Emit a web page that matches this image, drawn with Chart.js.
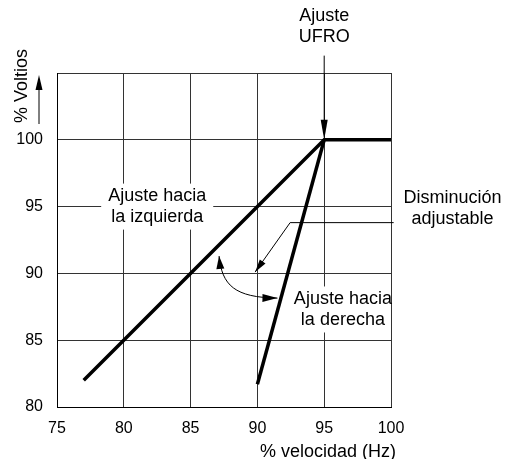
<!DOCTYPE html>
<html>
<head>
<meta charset="utf-8">
<script src="https://cdn.jsdelivr.net/npm/chart.js@4"></script>
<style>
  body { margin: 0; background: #fff; }
  canvas { display: block; }
</style>
</head>
<body>
<canvas id="chart" width="505" height="459"></canvas>
<script>
// values
const speedLeft = [77, 95, 100];
const voltsLeft = [82, 100, 100];
const speedRight = [90, 95];
const voltsRight = [81.7, 100];

const xTicks = [75, 80, 85, 90, 95, 100];
const yTicks = [80, 85, 90, 95, 100];

const xTitle = '% velocidad (Hz)';
const yTitle = '% Voltios';

// annotation texts, anchored in data units
const notes = [
    { lines: ['Ajuste hacia', 'la izquierda'], x: 82.5, y: 95, box: true },
    { lines: ['Ajuste hacia', 'la derecha'], x: 96.4, y: 87.3, box: true },
    { lines: ['Disminución', 'adjustable'], x: 104.6, y: 94.85, box: false },
    { lines: ['Ajuste', 'UFRO'], x: 95, y: 108.45, box: false }
];

const ufroArrow = [[95, 106.3], [95, 100]];
const leaderArrow = [[100.2, 93.8], [92.45, 93.8], [89.83, 90.1]];
const curvedArrow = [[87.13, 91.3], [87.35, 89.1], [88.3, 88.2], [91.5, 88.15]];

const FONT = '"Liberation Sans", Arial, sans-serif';

function arrowHead(ctx, fromX, fromY, toX, toY, len, half) {
    const a = Math.atan2(toY - fromY, toX - fromX);
    ctx.beginPath();
    ctx.moveTo(toX, toY);
    ctx.lineTo(toX - len * Math.cos(a) + half * Math.sin(a), toY - len * Math.sin(a) - half * Math.cos(a));
    ctx.lineTo(toX - len * Math.cos(a) - half * Math.sin(a), toY - len * Math.sin(a) + half * Math.cos(a));
    ctx.closePath();
    ctx.fill();
}

const notesPlugin = {
    id: 'notes',
    beforeDatasetsDraw(chart) {
        const ctx = chart.ctx;
        const xs = chart.scales.x, ys = chart.scales.y;
        ctx.save();
        ctx.font = '18px ' + FONT;
        ctx.textAlign = 'center';
        ctx.textBaseline = 'middle';
        notes.forEach(n => {
            const cx = xs.getPixelForValue(n.x);
            const cy = ys.getPixelForValue(n.y);
            const lh = 21;
            if (n.box) {
                const w = Math.max(...n.lines.map(l => ctx.measureText(l).width)) + 14;
                const h = n.lines.length * lh + 4;
                let left = cx - w / 2, right = cx + w / 2;
                right = Math.min(right, chart.chartArea.right - 1);
                ctx.fillStyle = '#fff';
                ctx.fillRect(left, cy - h / 2, right - left, h);
            }
            ctx.fillStyle = '#000';
            n.lines.forEach((l, i) => {
                ctx.fillText(l, cx, cy + (i - (n.lines.length - 1) / 2) * lh);
            });
        });
        ctx.restore();
    },
    afterDatasetsDraw(chart) {
        const ctx = chart.ctx;
        const xs = chart.scales.x, ys = chart.scales.y;
        const P = p => [xs.getPixelForValue(p[0]), ys.getPixelForValue(p[1])];
        ctx.save();
        ctx.strokeStyle = '#000';
        ctx.fillStyle = '#000';
        ctx.lineWidth = 1;

        // UFRO arrow
        let a = P(ufroArrow[0]), b = P(ufroArrow[1]);
        ctx.beginPath();
        ctx.moveTo(a[0], a[1]);
        ctx.lineTo(b[0], b[1] - 10);
        ctx.stroke();
        arrowHead(ctx, a[0], a[1], b[0], b[1], 20, 3.5);

        // leader to the adjustable drop
        const l = leaderArrow.map(P);
        ctx.beginPath();
        ctx.moveTo(l[0][0], l[0][1]);
        ctx.lineTo(l[1][0], l[1][1]);
        ctx.lineTo(l[2][0], l[2][1]);
        ctx.stroke();
        arrowHead(ctx, l[1][0], l[1][1], l[2][0], l[2][1], 13, 3.5);

        // curved double arrow
        const c = curvedArrow.map(P);
        ctx.beginPath();
        ctx.moveTo(c[0][0], c[0][1]);
        ctx.bezierCurveTo(c[1][0], c[1][1], c[2][0], c[2][1], c[3][0], c[3][1]);
        ctx.stroke();
        arrowHead(ctx, c[1][0], c[1][1], c[0][0], c[0][1], 13, 4);
        arrowHead(ctx, c[2][0], c[2][1], c[3][0], c[3][1], 15, 4);

        // axis titles
        const area = chart.chartArea;
        ctx.font = '18px ' + FONT;
        ctx.textBaseline = 'middle';
        ctx.textAlign = 'center';
        ctx.fillText(xTitle, area.right - 63, 452);

        ctx.save();
        ctx.translate(22, 86);
        ctx.rotate(-Math.PI / 2);
        ctx.fillText(yTitle, 0, 0);
        ctx.restore();

        // arrow next to the y title
        ctx.beginPath();
        ctx.moveTo(39, 124);
        ctx.lineTo(39, 88);
        ctx.stroke();
        arrowHead(ctx, 39, 124, 39, 75, 15, 3.5);
        ctx.restore();
    }
};

new Chart(document.getElementById('chart'), {
    type: 'scatter',
    data: {
        datasets: [
            {
                data: speedLeft.map((v, i) => ({ x: v, y: voltsLeft[i] })),
                showLine: true,
                borderColor: '#000',
                borderWidth: 3.5,
                pointRadius: 0,
                borderCapStyle: 'butt'
            },
            {
                data: speedRight.map((v, i) => ({ x: v, y: voltsRight[i] })),
                showLine: true,
                borderColor: '#000',
                borderWidth: 3.5,
                pointRadius: 0,
                borderCapStyle: 'butt'
            }
        ]
    },
    options: {
        responsive: false,
        animation: false,
        devicePixelRatio: 1,
        layout: { padding: { top: 73, right: 114, left: 0, bottom: 0 } },
        plugins: {
            legend: { display: false },
            tooltip: { enabled: false }
        },
        scales: {
            x: {
                type: 'linear',
                min: xTicks[0],
                max: xTicks[xTicks.length - 1],
                afterBuildTicks: s => { s.ticks = xTicks.map(v => ({ value: v })); },
                afterFit: s => { s.height = 52; },
                grid: { color: '#333', lineWidth: 1, drawTicks: false },
                border: { color: '#000', width: 1 },
                ticks: {
                    color: '#000',
                    padding: 12,
                    maxRotation: 0,
                    font: { family: FONT, size: 16 }
                }
            },
            y: {
                type: 'linear',
                min: 80,
                max: 105,
                afterBuildTicks: s => { s.ticks = yTicks.concat([105]).map(v => ({ value: v })); },
                afterFit: s => { s.width = 57; },
                grid: { color: '#333', lineWidth: 1, drawTicks: false },
                border: { color: '#000', width: 1 },
                ticks: {
                    color: '#000',
                    padding: 14,
                    font: { family: FONT, size: 16 },
                    callback: v => (yTicks.includes(v) ? String(v) : '')
                }
            }
        }
    },
    plugins: [notesPlugin]
});
</script>
</body>
</html>
